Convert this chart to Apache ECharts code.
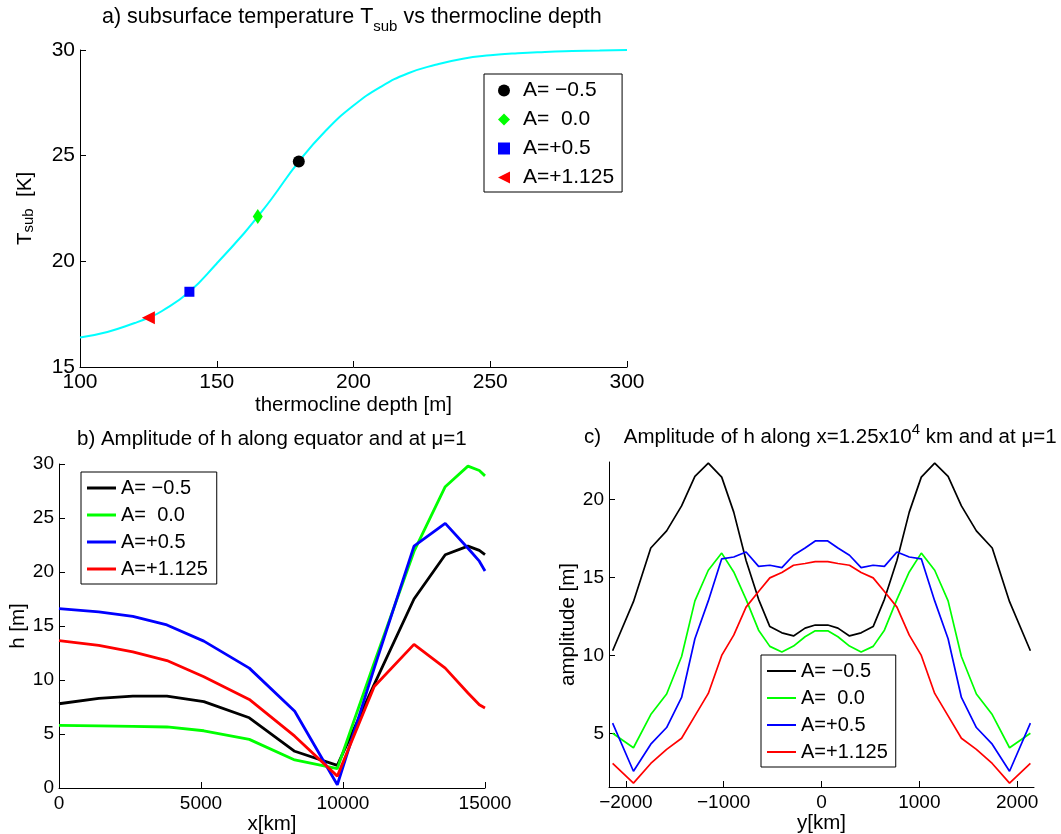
<!DOCTYPE html>
<html>
<head>
<meta charset="utf-8">
<title>Tsub and amplitude of h</title>
<script src="https://cdn.jsdelivr.net/npm/echarts@6.0.0/dist/echarts.min.js"></script>
<style>
  html, body { margin: 0; padding: 0; background: #fff; }
  #main { width: 1061px; height: 834px; }
</style>
</head>
<body>
<div id="main"></div>
<script>
// a) subsurface temperature vs thermocline depth
var depth = [100, 110, 120, 125, 130, 140, 150, 160, 165, 170, 180, 190, 200, 210, 220, 230, 240, 250, 260, 270, 280, 290, 300];
var tsub = [16.4, 16.66, 17.08, 17.33, 17.65, 18.56, 19.9, 21.33, 22.12, 22.95, 24.72, 26.2, 27.37, 28.26, 28.9, 29.3, 29.59, 29.75, 29.85, 29.91, 29.95, 29.98, 30.0];
var markDepth = [180, 165, 140, 125];
var markTsub = [24.72, 22.12, 18.56, 17.33];

// b) amplitude of h along equator
var bX = [0, 1400, 2600, 3800, 5100, 6700, 8300, 9800, 11100, 12500, 13600, 14400, 14800, 15000];
var bAm05 = [7.8, 8.3, 8.5, 8.5, 8.0, 6.5, 3.4, 2.1, 9.6, 17.5, 21.6, 22.4, 22.0, 21.6];
var bA00 = [5.8, 5.75, 5.7, 5.65, 5.3, 4.5, 2.6, 1.8, 11.6, 21.9, 27.9, 29.8, 29.4, 28.9];
var bAp05 = [16.6, 16.3, 15.9, 15.1, 13.6, 11.1, 7.1, 0.3, 11.1, 22.4, 24.5, 22.2, 21.0, 20.1];
var bAp1125 = [13.65, 13.2, 12.6, 11.8, 10.3, 8.2, 4.8, 1.1, 9.4, 13.3, 11.1, 8.8, 7.7, 7.4];

// c) amplitude of h along x=1.25e4 km
var cY = [-2135, -1922, -1745, -1583, -1430, -1294, -1157, -1020, -897, -771, -643, -528, -405, -286, -168, -64,
          64, 168, 286, 405, 528, 643, 771, 897, 1020, 1157, 1294, 1430, 1583, 1745, 1922, 2135];
var cAm05 = [10.3, 13.45, 16.9, 18.0, 19.6, 21.5, 22.35, 21.45, 19.2, 16.1, 13.6, 11.85, 11.45, 11.25, 11.75, 11.95,
             11.95, 11.75, 11.25, 11.45, 11.85, 13.6, 16.1, 19.2, 21.45, 22.35, 21.5, 19.6, 18.0, 16.9, 13.45, 10.3];
var cA00 = [5.0, 4.07, 6.2, 7.52, 9.93, 13.5, 15.47, 16.57, 15.36, 13.6, 11.62, 10.58, 10.22, 10.6, 11.2, 11.58,
            11.58, 11.2, 10.6, 10.22, 10.58, 11.62, 13.6, 15.36, 16.57, 15.47, 13.5, 9.93, 7.52, 6.2, 4.07, 5.0];
var cAp05 = [5.65, 2.56, 4.3, 5.37, 7.3, 11.07, 13.5, 16.2, 16.32, 16.64, 15.72, 15.79, 15.64, 16.43, 16.9, 17.35,
             17.35, 16.9, 16.43, 15.64, 15.79, 15.72, 16.64, 16.32, 16.2, 13.5, 11.07, 7.3, 5.37, 4.3, 2.56, 5.65];
var cAp1125 = [3.06, 1.8, 3.06, 3.97, 4.68, 6.12, 7.56, 10.0, 11.3, 13.1, 14.1, 14.98, 15.32, 15.79, 15.9, 16.02,
               16.02, 15.9, 15.79, 15.32, 14.98, 14.1, 13.1, 11.3, 10.0, 7.56, 6.12, 4.68, 3.97, 3.06, 1.8, 3.06];

var caseLabels = ['A= \u22120.5', 'A=  0.0', 'A=+0.5', 'A=+1.125'];
var caseColors = ['#000000', '#00ff00', '#0000ff', '#ff0000'];
var FONT = 'Liberation Sans';

function zip(xs, ys) {
    var out = [];
    for (var i = 0; i < xs.length; i++) out.push([xs[i], ys[i]]);
    return out;
}
function minus(v) { return String(v).replace('-', '\u2212'); }

function axis(gi, o) {
    var a = {
        type: 'value', gridIndex: gi,
        axisLine: {show: true, onZero: false, lineStyle: {color: '#000', width: 1}},
        axisTick: {show: true, inside: true, length: 6, lineStyle: {color: '#000', width: 1}},
        axisLabel: {color: '#000', fontFamily: FONT, fontSize: o.fs || 19, margin: o.margin || 6, formatter: minus},
        splitLine: {show: false},
        nameLocation: 'middle',
        nameMoveOverlap: false,
        nameTextStyle: {color: '#000', fontFamily: FONT, fontSize: 20.5,
            rich: {sub: {fontFamily: FONT, fontSize: 15, lineHeight: 10, verticalAlign: 'bottom'}}}
    };
    ['min', 'max', 'interval', 'name', 'nameGap', 'nameRotate'].forEach(function (k) {
        if (o[k] !== undefined) a[k] = o[k];
    });
    if (o.ticks) {
        a.axisLabel.customValues = o.ticks;
        a.axisTick.customValues = o.ticks;
    }
    return a;
}

function legendItems(prefix, icons) {
    return caseLabels.map(function (l, i) {
        var d = {name: prefix + i};
        if (icons) d.icon = icons[i];
        return d;
    });
}
function legendFmt(n) { return caseLabels[+n.slice(1)]; }

var series = [];
series.push({
    name: 'curve', type: 'line', xAxisIndex: 0, yAxisIndex: 0,
    data: zip(depth, tsub), smooth: true, showSymbol: false,
    lineStyle: {color: '#00ffff', width: 2}, itemStyle: {color: '#00ffff'}, z: 2
});
var aSymbols = ['circle', 'diamond', 'rect', 'path://M0,5L10,0L10,10Z'];
var aSizes = [12, [10, 15], 10, 13];
for (var i = 0; i < 4; i++) {
    series.push({
        name: 'a' + i, type: 'scatter', xAxisIndex: 0, yAxisIndex: 0,
        data: [[markDepth[i], markTsub[i]]],
        symbol: aSymbols[i], symbolSize: aSizes[i],
        itemStyle: {color: caseColors[i], opacity: 1}, z: 5
    });
}
var bSets = [bAm05, bA00, bAp05, bAp1125];
var cSets = [cAm05, cA00, cAp05, cAp1125];
for (var j = 0; j < 4; j++) {
    series.push({
        name: 'b' + j, type: 'line', xAxisIndex: 1, yAxisIndex: 1,
        data: zip(bX, bSets[j]), showSymbol: false,
        lineStyle: {color: caseColors[j], width: 2.8}, itemStyle: {color: caseColors[j]}
    });
}
for (var k = 0; k < 4; k++) {
    series.push({
        name: 'c' + k, type: 'line', xAxisIndex: 2, yAxisIndex: 2,
        data: zip(cY, cSets[k]), showSymbol: false,
        lineStyle: {color: caseColors[k], width: 1.7}, itemStyle: {color: caseColors[k]}
    });
}

var legendBase = {
    orient: 'vertical', backgroundColor: '#fff', borderColor: '#000', borderWidth: 1,
    borderRadius: 0, selectedMode: false, formatter: legendFmt,
    itemStyle: {borderWidth: 0}, lineStyle: {width: 0}
};

function titleStyle(size, lh) {
    return {
        color: '#000', fontFamily: FONT, fontSize: size, fontWeight: 'normal', lineHeight: lh,
        rich: {
            sub: {fontFamily: FONT, fontSize: 15, lineHeight: 10, verticalAlign: 'bottom'},
            sup: {fontFamily: FONT, fontSize: 15, lineHeight: 10, verticalAlign: 'top'}
        }
    };
}

var option = {
    animation: false,
    backgroundColor: '#fff',
    title: [
        {text: 'a) subsurface temperature T{sub|sub} vs thermocline depth', left: 102, top: 0, padding: 0,
         textStyle: titleStyle(21.5, 34)},
        {text: 'b) Amplitude of h along equator and at \u03bc=1', left: 77, top: 425, padding: 0,
         textStyle: titleStyle(20.5, 28)},
        {text: 'c)    Amplitude of h along x=1.25x10{sup|4} km and at \u03bc=1', left: 584, top: 422, padding: 0,
         textStyle: titleStyle(20.5, 30)}
    ],
    grid: [
        {left: 80, top: 50, width: 547, height: 317, outerBoundsMode: 'none'},
        {left: 59, top: 464, width: 426, height: 324, outerBoundsMode: 'none'},
        {left: 609, top: 462, width: 425, height: 325, outerBoundsMode: 'none'}
    ],
    xAxis: [
        axis(0, {min: 100, max: 300, interval: 50, fs: 21, margin: 5, name: 'thermocline depth [m]', nameGap: 28}),
        axis(1, {min: 0, max: 15000, interval: 5000, margin: 6, name: 'x[km]', nameGap: 26}),
        axis(2, {min: -2172, max: 2172, ticks: [-2000, -1000, 0, 1000, 2000], margin: 6, name: 'y[km]', nameGap: 26})
    ],
    yAxis: [
        axis(0, {min: 15, max: 30, interval: 5, fs: 21, margin: 5, name: 'T{sub|sub}  [K]', nameRotate: 90, nameGap: 44}),
        axis(1, {min: 0, max: 30, interval: 5, margin: 5, name: 'h [m]', nameRotate: 90, nameGap: 30}),
        axis(2, {min: 1.55, max: 22.42, ticks: [5, 10, 15, 20], margin: 5, name: 'amplitude [m]', nameRotate: 90, nameGap: 30})
    ],
    legend: [
        Object.assign({}, legendBase, {
            left: 484, top: 74, padding: [6, 8, 4, 14], itemWidth: 12, itemHeight: 12, itemGap: 8,
            data: legendItems('a', ['circle', 'diamond', 'rect', 'path://M0,5L10,0L10,10Z']),
            textStyle: {color: '#000', fontFamily: FONT, fontSize: 21, lineHeight: 21, padding: [0, 0, 0, 8]}
        }),
        Object.assign({}, legendBase, {
            left: 81, top: 472, padding: [6, 9, 5, 6], itemWidth: 29, itemHeight: 3, itemGap: 7,
            data: legendItems('b', ['rect', 'rect', 'rect', 'rect']),
            textStyle: {color: '#000', fontFamily: FONT, fontSize: 20, lineHeight: 20}
        }),
        Object.assign({}, legendBase, {
            left: 761, top: 655, padding: [6, 8, 5, 6], itemWidth: 29, itemHeight: 2, itemGap: 7,
            data: legendItems('c', ['rect', 'rect', 'rect', 'rect']),
            textStyle: {color: '#000', fontFamily: FONT, fontSize: 20, lineHeight: 20}
        })
    ],
    series: series
};

var chart = echarts.init(document.getElementById('main'));
chart.setOption(option);
</script>
</body>
</html>
